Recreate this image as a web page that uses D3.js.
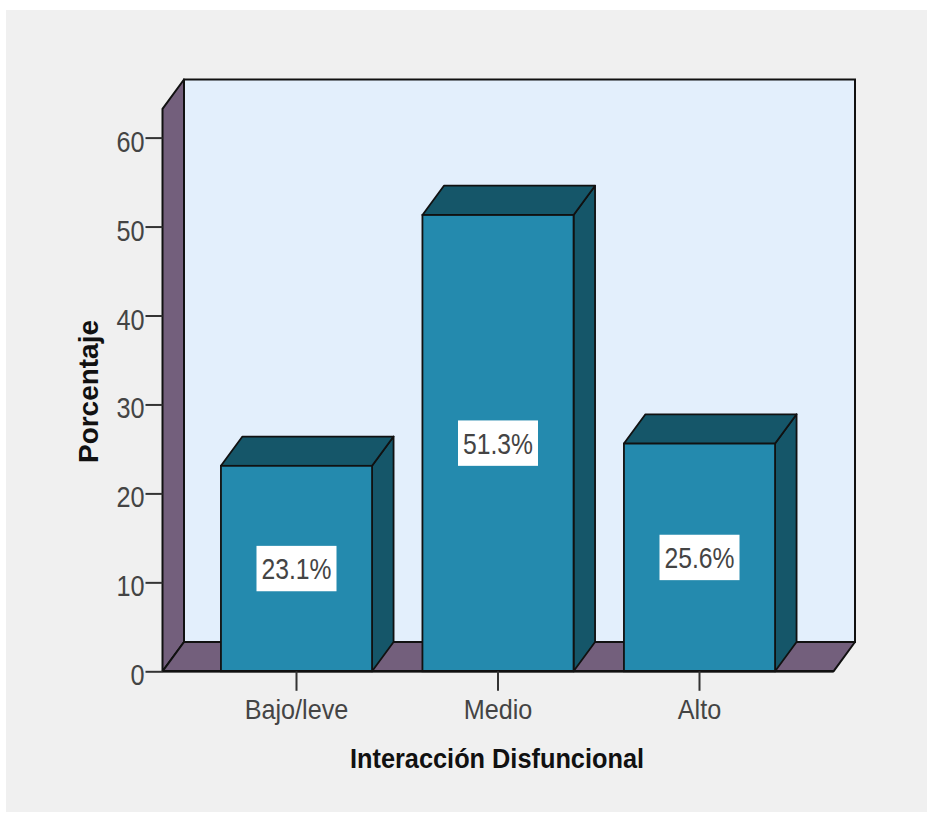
<!DOCTYPE html>
<html>
<head>
<meta charset="utf-8">
<script src="https://cdn.jsdelivr.net/npm/d3@7"></script>
<style>
html,body{margin:0;padding:0;background:#fff;}
svg{display:block;}
text{font-family:"Liberation Sans",Arial,sans-serif;}
</style>
</head>
<body>
<svg id="chart" width="927" height="814"></svg>
<script>
// Bar chart with pseudo-3D depth
const categories = ["Bajo/leve", "Medio", "Alto"];
const percentages = [23.1, 51.3, 25.6];
const valueLabels = ["23.1%", "51.3%", "25.6%"];
const yTicks = [0, 10, 20, 30, 40, 50, 60];
const xTitle = "Interacción Disfuncional";
const yTitle = "Porcentaje";

const W = 927, H = 814;
const depthX = 21.5, depthY = -29.3;
const floorLeft = 162.5, floorRight = 833.5;
const outline = "#111";
const labelColor = "#444";

const svg = d3.select("#chart");
svg.append("rect").attr("x", 6).attr("y", 10).attr("width", W - 6).attr("height", H - 12).attr("fill", "#f0f0f0");

const y = d3.scaleLinear().domain([0, 60]).range([671.3, 137.6]);
const yTop = y.invert(108.8);
const x = d3.scaleBand().domain(categories).range([195.75, 800.25]).paddingInner(0.25).paddingOuter(0.125);

const poly = pts => pts.map(p => p.join(",")).join(" ");
const y0 = y(0), yT = y(yTop);

// Narrow a label's glyphs by a factor of its natural width
function condense(selection, factor) {
  selection.each(function() {
    const w = this.getComputedTextLength();
    d3.select(this).attr("textLength", w * factor).attr("lengthAdjust", "spacingAndGlyphs");
  });
}

// Back wall, side wall and floor of the box
svg.append("polygon")
  .attr("points", poly([[floorLeft + depthX, yT + depthY], [floorRight + depthX, yT + depthY], [floorRight + depthX, y0 + depthY], [floorLeft + depthX, y0 + depthY]]))
  .attr("fill", "#e3effc").attr("stroke", outline).attr("stroke-width", 2);
svg.append("polygon")
  .attr("points", poly([[floorLeft, yT], [floorLeft + depthX, yT + depthY], [floorLeft + depthX, y0 + depthY], [floorLeft, y0]]))
  .attr("fill", "#735f7c").attr("stroke", outline).attr("stroke-width", 2).attr("stroke-linejoin", "round");
svg.append("polygon")
  .attr("points", poly([[floorLeft, y0], [floorLeft + depthX, y0 + depthY], [floorRight + depthX, y0 + depthY], [floorRight, y0]]))
  .attr("fill", "#735f7c").attr("stroke", outline).attr("stroke-width", 2).attr("stroke-linejoin", "round");

// Bars: side, top and front faces
const bars = svg.append("g").selectAll("g")
  .data(categories.map((c, i) => ({c, v: percentages[i], label: valueLabels[i]})))
  .join("g");
bars.append("polygon")
  .attr("points", d => {
    const l = x(d.c) + x.bandwidth(), t = y(d.v);
    return poly([[l, t], [l + depthX, t + depthY], [l + depthX, y0 + depthY], [l, y0]]);
  })
  .attr("fill", "#155669").attr("stroke", outline).attr("stroke-width", 1.8).attr("stroke-linejoin", "round");
bars.append("polygon")
  .attr("points", d => {
    const l = x(d.c), r = l + x.bandwidth(), t = y(d.v);
    return poly([[l, t], [l + depthX, t + depthY], [r + depthX, t + depthY], [r, t]]);
  })
  .attr("fill", "#155669").attr("stroke", outline).attr("stroke-width", 1.8).attr("stroke-linejoin", "round");
bars.append("rect")
  .attr("x", d => x(d.c)).attr("y", d => y(d.v))
  .attr("width", x.bandwidth()).attr("height", d => y0 - y(d.v))
  .attr("fill", "#248aae").attr("stroke", outline).attr("stroke-width", 1.8);

// Floor front edge sits on top of the bars
svg.append("line").attr("x1", floorLeft).attr("x2", floorRight).attr("y1", y0).attr("y2", y0)
  .attr("stroke", outline).attr("stroke-width", 2.4);

// Value boxes centred on the bar's front face
bars.each(function(d) {
  const g = d3.select(this);
  const cx = x(d.c) + x.bandwidth() / 2, cy = (y(d.v) + y0) / 2;
  g.append("rect").attr("x", cx - 40).attr("y", cy - 22.7).attr("width", 80).attr("height", 45.4).attr("fill", "#fff");
  g.append("text").attr("x", cx).attr("y", cy + 10.5).attr("text-anchor", "middle")
    .attr("font-size", 29.5).attr("textLength", 70).attr("lengthAdjust", "spacingAndGlyphs").attr("fill", labelColor).text(d.label);
});

// Axes
const yAxis = d3.axisLeft(y).tickValues(yTicks).tickSize(17).tickPadding(1);
const gy = svg.append("g").attr("transform", `translate(${floorLeft},0)`).call(yAxis);
gy.select(".domain").remove();
gy.selectAll("line").attr("stroke", "#333").attr("stroke-width", 2);
gy.selectAll("text").attr("font-size", 29).attr("fill", labelColor)
  .attr("font-family", '"Liberation Sans",Arial,sans-serif')
  .attr("dy", null).attr("y", 13.5).call(condense, 0.87);

const xAxis = d3.axisBottom(x).tickSize(19.5);
const gx = svg.append("g").attr("transform", `translate(0,${y0})`).call(xAxis);
gx.select(".domain").remove();
gx.selectAll("line").attr("stroke", "#333").attr("stroke-width", 2);
gx.selectAll("text").attr("font-size", 28).attr("fill", labelColor)
  .attr("font-family", '"Liberation Sans",Arial,sans-serif')
  .attr("dy", null).attr("y", 48).call(condense, 0.9);

// Axis titles
svg.append("text").attr("x", 497).attr("y", 768).attr("text-anchor", "middle")
  .attr("font-size", 27.5).attr("font-weight", "bold").attr("fill", "#111")
  .attr("textLength", 294).attr("lengthAdjust", "spacingAndGlyphs").text(xTitle);
svg.append("text").attr("transform", "translate(97.5,391.5) rotate(-90)").attr("text-anchor", "middle")
  .attr("font-size", 27.5).attr("font-weight", "bold").attr("fill", "#111")
  .attr("textLength", 143).attr("lengthAdjust", "spacingAndGlyphs").text(yTitle);
</script>
</body>
</html>
